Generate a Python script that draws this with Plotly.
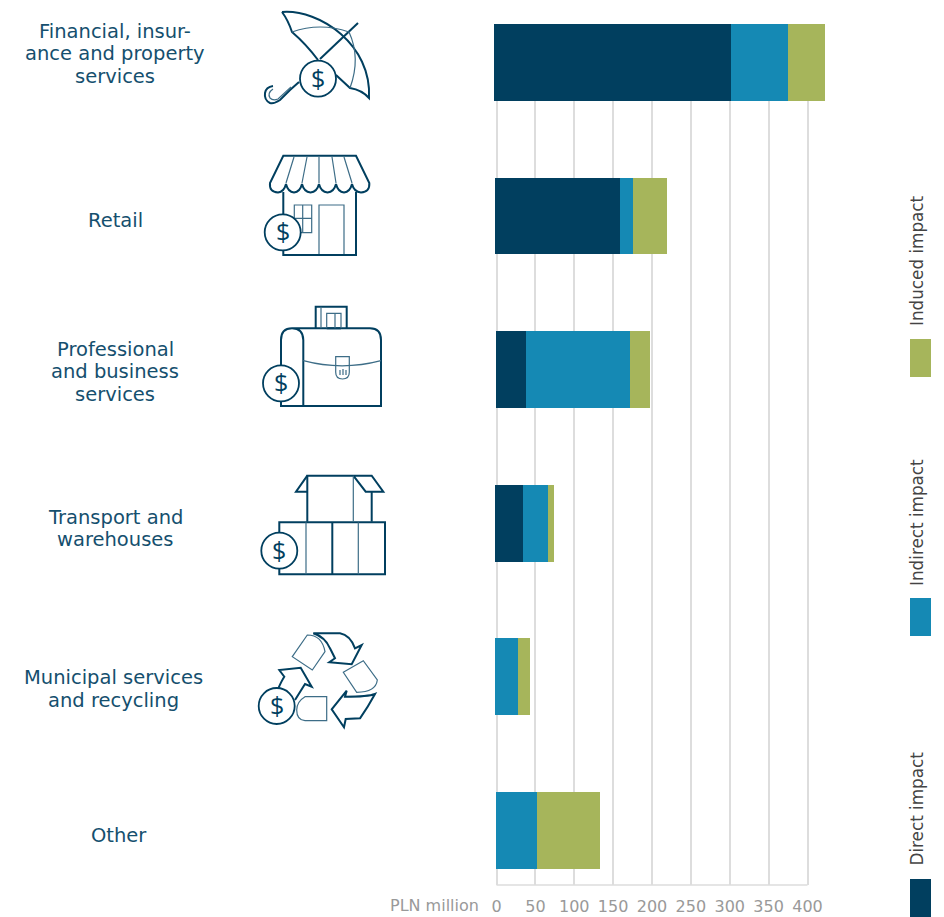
import plotly.graph_objects as go

# Tax impact by sector, PLN million
categories = ["Financial, insurance and property services", "Retail", "Professional and business services",
              "Transport and warehouses", "Municipal services and recycling", "Other"]
direct = [304.8, 160.8, 38.6, 36.0, 0, 0]
indirect = [73.3, 16.7, 133.8, 32.2, 29.6, 53.3]
induced = [47.6, 43.7, 25.7, 7.7, 15.4, 81.0]
bar_start = [-3.2, -2.0, -0.6, -1.5, -1.5, -0.6]
tick_values = [0, 50, 100, 150, 200, 250, 300, 350, 400]

# Sector captions, one entry per line with its baseline height
row_lines = ["Financial, insur-", "ance and property", "services", "Retail", "Professional", "and business",
             "services", "Transport and", "warehouses", "Municipal services", "and recycling", "Other"]
line_x = [115, 115, 115, 115, 115, 115, 115, 115, 115, 113, 113, 119]
line_base = [38.3, 60.7, 83, 227, 356, 378.5, 401, 524, 546, 684, 707, 842]

series_names = ["Direct impact", "Indirect impact", "Induced impact"]
NAVY, BLUE, GREEN = "#013f5f", "#1589b4", "#a6b55b"
TEXT = "#154f6e"
GREY, GRID = "#999999", "#dddddd"
W, H = 944, 917
PLOT_L, PLOT_R, PLOT_T, PLOT_B = 490, 830, 24, 885
PX_PER_UNIT = 311 / 400
FONT = "DejaVu Sans"

# Coin centres of the sector pictograms, in page pixels
coin_x = [318, 282.7, 281, 279.3, 276.7]
coin_y = [78.7, 232.3, 383.3, 550.7, 706]

heavy = [
    # umbrella
    "M282,12 C320,9 372,45 369,98 Q362,90 350,88 L336,75",
    "M282,12 Q288,20 292,32 Q306,44 318,60",
    "M320,59 L358,23",
    "M299,82 L290,90 L280,100 Q274,104 270,103 Q264,100 265,93 Q266,87 273,86",
    # shop
    "M283.3,155.7 L356,155.7 L369.3,183 Q370,192 361,192.5 Q354,192 352,184 Q350,192 344,192.5 Q338,192 336,184 "
    "Q334,192 327.5,192.5 Q321,192 319,184 Q317,192 310.5,192.5 Q304,192 302,184 Q300,192 294,192.5 Q288,192 286,184 "
    "Q284,192 278,192.5 Q269,192 270,183 Z",
    "M283.3,192 L283.3,255 L356,255 L356,192",
    # briefcase
    "M315.7,328.3 L315.7,306.7 L346.7,306.7 L346.7,328.3",
    "M326.7,328.3 L341,328.3",
    "M303.3,406 L303.3,340 Q303,328.3 292,328.3 Q281,328.3 281,340 L281,406 L303.3,406 L381,406 L381,340 "
    "Q381,328.3 370,328.3 L292,328.3",
    # cartons
    "M307.3,521.7 L307.3,475.7 L371.7,475.7 L383.3,491.7 L365.7,491.7 L353.3,475.7",
    "M307.3,475.7 L296,491.7 L307.3,491.7",
    "M371.7,491.7 L371.7,521.7",
    "M279.3,522.3 L385,522.3 L385,574.3 L279.3,574.3 Z",
    "M332.3,522.3 L332.3,574.3",
    # recycling arrows
    "M313.3,633.3 L340,633.3 Q350,635 355,648.3 L361.7,645 L351.7,664.3 L329.3,662.3 L335,658.3 L330,648.3 "
    "Q325,637 313.3,633.3 Z",
    "M375,694 Q368.3,696.7 345,696.7 L346.7,690.7 L331.7,709.3 L344,727.3 L345.7,719 L360,718.3 Q368,707 375,694 Z",
    "M295,700 L305,684 L311.7,686.7 L300.7,667.7 L279.3,670 L284.3,676.7 Q282,680 278.3,688.3",
]

thin = [
    # umbrella ribs and handle
    "M292,32 Q320,22 349,32 Q361,58 350,88",
    "M291,87 L278,99 Q273,101 270,98 Q267,93 273,89",
    # shop awning ribs, window, door
    "M294,157 L286,183 M307,157 L302,183 M319,157 L319,183 M332,157 L336,183 M344,157 L352,183",
    "M294.3,205 L311.7,205 L311.7,232.7 L294.3,232.7 Z M302.7,205 L302.7,232.7 M294.3,218.3 L311.7,218.3",
    "M319,254 L319,205 L344,205 L344,254",
    "M322.8,230.7 A1.5,1.5 0 1 0 325.8,230.7 A1.5,1.5 0 1 0 322.8,230.7 Z",
    # briefcase details
    "M321,306.7 L321,328.3 M326.7,328.3 L326.7,313.3 L341,313.3 L341,328.3 M335,313.3 L335,328.3",
    "M303.3,360.7 Q342,371 381,360.7",
    "M335.7,356.7 L349.3,356.7 L349.3,372.3 Q349.3,379 342.5,379 Q335.7,379 335.7,372.3 Z",
    "M340,370 L340,375 M343,369 L343,375 M346,370 L346,375",
    # carton seams
    "M353.3,475.7 L353.3,521.7 M306,522.3 L306,574.3 M358.3,522.3 L358.3,574.3",
    # recycling blades
    "M292.3,656.7 L307.3,635 Q322,635 325,651.7 L312.3,670 Z",
    "M343.3,672.3 L363.3,660.7 L377.3,680 Q376,692 356.7,692.3 Z",
    "M326.7,696.7 L326.7,720.7 L305,720.7 Q296.7,720 296.7,710 Q296.7,701.7 305,696.7 Z",
]

fig = go.Figure()

# One bar segment per sector and impact type, each starting where the previous one ends
starts = list(bar_start)
for name, values, color in zip(series_names, (direct, indirect, induced), (NAVY, BLUE, GREEN)):
    fig.add_trace(go.Bar(y=categories, x=values, base=starts, name=name, orientation="h",
                         width=0.5, marker=dict(color=color, line_width=0), showlegend=False))
    starts = [s + v for s, v in zip(starts, values)]

# Coins sit above the pictogram outlines on a page-sized pixel canvas
fig.add_trace(go.Scatter(x=coin_x, y=coin_y, xaxis="x2", yaxis="y2", mode="markers",
                         marker=dict(size=36, color="white", line=dict(color=NAVY, width=1.8)),
                         hoverinfo="skip", showlegend=False, cliponaxis=False))

shapes = []
for d in heavy:
    shapes.append(dict(type="path", path=d, xref="x2", yref="y2", layer="below",
                       line=dict(color=NAVY, width=2)))
for d in thin:
    shapes.append(dict(type="path", path=d, xref="x2", yref="y2", layer="below",
                       line=dict(color="#3d6d87", width=1.2)))
# Baseline of the value axis
shapes.append(dict(type="line", xref="x", yref="paper", x0=0, x1=400,
                   y0=(H - PLOT_B) / H, y1=(H - PLOT_B) / H, layer="below",
                   line=dict(color=GRID, width=1.5)))

# Legend swatches, stacked down the right edge
swatch_top = [879, 598, 339]
for top, color in zip(swatch_top, (NAVY, BLUE, GREEN)):
    shapes.append(dict(type="rect", xref="x2", yref="y2", x0=910, x1=931, y0=top, y1=top + 38,
                       fillcolor=color, line_width=0))

annotations = []
for cx, cy in zip(coin_x, coin_y):
    annotations.append(dict(text="$", x=cx, y=cy - 1, xref="x2", yref="y2", xanchor="center", yanchor="middle",
                            showarrow=False, font=dict(family="Open Sans", size=25, color=NAVY)))
for text, x, base in zip(row_lines, line_x, line_base):
    annotations.append(dict(text=text, x=x, y=base - 7, xref="x2", yref="y2", xanchor="center", yanchor="middle",
                            showarrow=False, align="center",
                            font=dict(family=FONT, size=19.5, color=TEXT)))
legend_bottom = [868, 588, 328]
for name, bottom in zip(series_names, legend_bottom):
    annotations.append(dict(text=name, x=916.5, y=bottom, xref="x2", yref="y2", xanchor="center", yanchor="bottom",
                            textangle=-90, showarrow=False,
                            font=dict(family=FONT, size=16.8, color="#444444")))
annotations.append(dict(text="PLN million", x=481, y=905.5, xref="x2", yref="y2", xanchor="right", yanchor="middle",
                        showarrow=False, font=dict(family=FONT, size=16, color=GREY)))

fig.update_layout(
    width=W, height=H, margin=dict(l=0, r=0, t=0, b=0, autoexpand=False), barmode="overlay", bargap=0,
    paper_bgcolor="white", plot_bgcolor="rgba(0,0,0,0)", shapes=shapes, annotations=annotations,
    xaxis=dict(domain=[PLOT_L / W, PLOT_R / W],
               range=[(PLOT_L - 496.5) / PX_PER_UNIT, (PLOT_R - 496.5) / PX_PER_UNIT],
               tickmode="array", tickvals=tick_values, ticktext=[str(v) for v in tick_values],
               showgrid=True, gridcolor=GRID, gridwidth=1.5, zeroline=False, showline=False,
               ticks="", ticklabelstandoff=10, tickfont=dict(family=FONT, size=16, color=GREY), anchor="y"),
    yaxis=dict(domain=[(H - PLOT_B) / H, (H - PLOT_T) / H], range=[5.355, -0.25], type="category",
               categoryorder="array", categoryarray=categories,
               showgrid=False, zeroline=False, showline=False, showticklabels=False, ticks="", anchor="x"),
    xaxis2=dict(domain=[0, 1], range=[0, W], visible=False, anchor="y2", fixedrange=True),
    yaxis2=dict(domain=[0, 1], range=[H, 0], visible=False, anchor="x2", fixedrange=True),
)

fig.write_html("out.html", config=dict(displayModeBar=False))
